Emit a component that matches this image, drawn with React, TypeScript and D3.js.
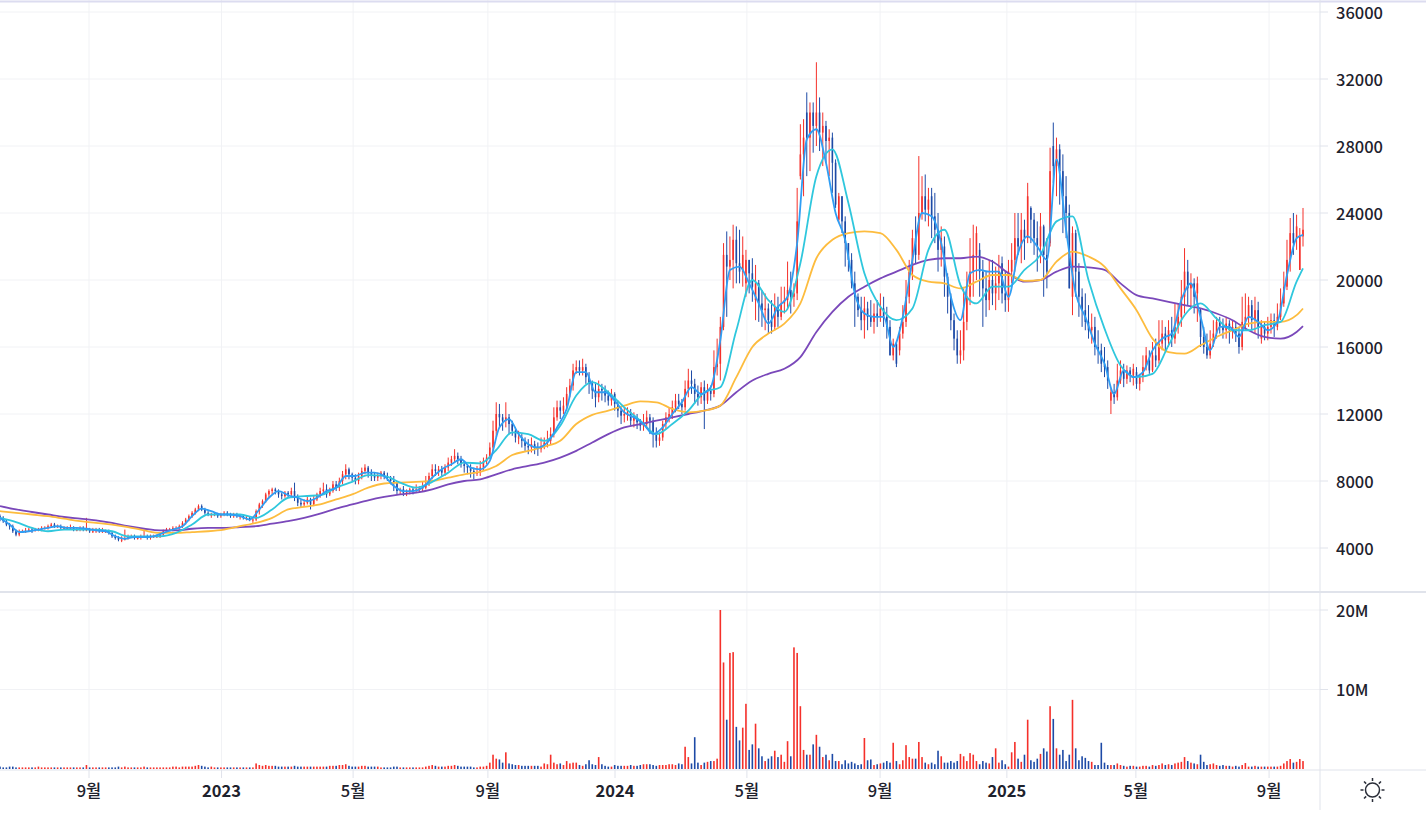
import * as d3 from 'd3';

// prices are in hundreds of won, one candle per two trading days
const opens = [
  59,58,56,54,53,50,48,49,50,50,
  51,50,51,51,52,52,53,54,53,53,
  52,52,52,52,51,51,52,51,51,50,
  50,51,50,50,50,49,47,46,45,45,
  46,47,47,46,46,47,47,46,47,47,
  47,48,50,51,51,52,52,53,55,57,
  59,61,63,65,63,61,60,60,60,59,
  60,61,60,59,60,59,59,58,58,57,
  57,62,66,68,72,74,75,74,72,71,
  73,72,74,70,67,66,67,69,66,69,
  72,74,75,72,74,78,76,80,84,87,
  84,82,80,83,86,88,85,83,82,83,
  85,83,82,80,79,74,75,73,74,75,
  74,75,76,76,78,83,87,86,87,85,
  88,91,93,95,93,90,89,88,86,85,
  85,88,92,94,100,110,120,118,116,118,
  114,110,106,106,104,101,100,102,100,99,
  101,103,104,108,118,124,122,125,132,137,
  146,148,146,148,142,138,134,130,135,134,
  131,128,132,126,122,119,120,121,116,118,
  115,113,114,118,116,108,104,106,114,118,
  120,124,128,126,124,135,140,138,132,130,
  136,128,134,132,148,150,172,215,208,212,
  224,210,205,198,212,204,188,198,186,182,
  183,176,172,184,178,186,188,194,190,192,
  262,275,300,285,300,292,300,288,292,283,
  285,270,236,250,235,222,212,198,190,182,
  176,183,178,175,180,178,183,178,172,155,
  162,158,168,175,190,205,225,215,240,250,
  242,250,238,230,218,220,202,190,176,165,
  155,158,175,190,205,215,218,205,195,188,
  200,192,198,210,192,188,205,212,225,220,
  230,225,243,236,225,220,232,215,222,280,
  268,278,265,250,240,190,228,205,190,182,
  175,170,172,160,158,150,148,128,133,130,
  140,146,141,146,143,145,138,142,148,152,
  146,155,152,162,168,164,170,165,172,178,
  190,205,195,198,192,182,166,160,155,162,
  168,175,172,170,174,170,172,168,160,175,
  178,185,176,182,165,172,168,172,176,172,
  178,186,196,212,228,225,206,226,
];
const highs = [
  60,59,57,55,54,51,51,51,52,52,
  52,52,52,53,53,54,55,55,54,54,
  53,53,54,53,52,53,53,58,52,52,
  52,52,52,51,51,50,48,47,47,51,
  48,48,48,47,48,51,48,48,48,48,
  49,51,52,52,53,53,54,56,58,60,
  62,64,66,66,64,62,61,61,61,61,
  62,62,61,61,61,60,60,59,59,58,
  63,67,69,73,75,76,76,75,73,74,
  74,76,79,72,69,69,71,70,71,73,
  76,79,78,76,80,80,82,86,90,88,
  85,84,85,88,90,89,87,85,85,86,
  86,85,83,83,80,76,77,75,76,76,
  78,77,80,83,85,90,90,89,89,90,
  94,95,99,97,95,92,90,90,88,89,
  92,94,96,103,116,127,126,120,127,120,
  116,112,110,108,106,105,106,104,103,106,
  106,110,112,124,128,128,130,136,141,150,
  152,152,153,150,145,140,139,140,138,137,
  134,135,133,128,124,124,124,123,121,120,
  117,120,122,120,118,112,109,116,121,124,
  128,132,132,129,140,147,146,141,137,139,
  140,138,137,158,165,178,222,229,226,233,
  232,230,226,218,212,213,209,200,194,192,
  186,188,192,190,196,196,211,205,198,255,
  293,296,312,306,306,330,309,300,295,290,
  288,272,252,250,238,222,216,205,192,190,
  190,187,188,186,188,192,190,184,176,165,
  163,172,185,200,212,230,238,274,262,263,
  255,255,252,240,232,226,204,192,180,170,
  170,195,205,225,233,232,222,212,205,212,
  212,208,215,214,205,212,222,240,240,240,
  236,258,244,240,235,240,233,225,279,294,
  285,281,275,262,245,232,230,210,195,192,
  185,180,178,170,162,160,152,135,138,150,
  152,150,149,148,150,148,144,155,160,158,
  163,165,176,176,172,176,178,186,186,200,
  219,212,204,201,202,183,172,168,170,176,
  178,178,177,178,176,176,175,172,190,192,
  190,188,190,187,176,175,178,180,180,186,
  195,205,224,237,240,239,231,243,
];
const lows = [
  56,55,53,51,49,47,47,49,49,50,
  49,50,50,50,51,51,52,52,52,51,
  51,51,51,50,50,50,50,50,49,49,
  49,49,49,49,48,46,45,44,43.5,44.5,
  45,46,45,45,45,46,45,45,46,46,
  46,47,49,50,50,51,51,52,54,56,
  58,60,62,62,60,59,58,59,58,58,
  59,59,58,58,58,57,57,56.5,56,55,
  56,60,64,67,70,72,72,70,69,70,
  70,71,68,65,64,64.5,66,63,65,68,
  70,72,70,71,73,74,74,78,81,81,
  80,78,78,81,84,82,80,80,80,81,
  81,80,78,74,72,72,71,71,72,72,
  73,73,74,75,77,81,83,83,83,83,
  86,89,91,90,88,85,84,82,81,83,
  83,86,90,93,98,106,112,110,112,108,
  107,103,102,100,98,96,97,96,95,97,
  99,100,102,106,116,117,120,122,130,134,
  144,143,143,138,132,129,124,127,128,127,
  125,125,122,118,114,115,116,113,112,111,
  110,110,111,108,100,100,101,104,111,115,
  117,121,123,120,122,130,132,126,125,126,
  111,126,128,130,143,140,170,178,200,195,
  198,198,196,190,192,187,176,175,172,170,
  168,168,170,172,176,180,182,180,184,188,
  260,250,262,265,276,280,277,268,270,262,
  252,243,234,228,208,205,195,172,178,170,
  165,170,172,168,172,175,172,165,155,152,
  148,155,165,172,186,200,210,212,236,235,
  232,225,222,205,208,190,180,170,158,150,
  150,152,170,185,190,200,190,172,178,182,
  185,182,188,186,181,181,198,205,215,210,
  212,222,222,215,205,210,190,195,220,258,
  250,245,228,225,195,179,190,178,172,170,
  165,162,155,150,145,142,135,120,126,128,
  138,136,138,139,137,135,134,139,146,144,
  145,148,150,158,158,160,160,162,168,172,
  180,185,183,180,175,160,156,153,153,160,
  165,168,165,165,162,165,163,156,158,170,
  172,170,168,165,162,164,164,168,166,170,
  176,184,194,205,215,218,206,220,
];
const closes = [
  58,56,54,53,50,48,49,50,50,51,
  50,51,51,52,52,53,54,53,53,52,
  52,52,52,51,51,52,51,51,50,50,
  51,50,50,50,49,47,46,45,45,46,
  47,47,46,46,47,47,46,47,47,47,
  48,50,51,51,52,52,53,55,57,59,
  61,63,65,63,61,60,60,60,59,60,
  61,60,59,60,59,59,58,58,57,57,
  62,66,68,72,74,75,74,72,71,73,
  72,74,70,67,66,67,69,66,69,72,
  74,75,72,74,78,76,80,84,87,84,
  82,80,83,86,88,85,83,82,83,85,
  83,82,80,79,74,75,73,74,75,74,
  75,76,76,78,83,87,86,87,85,88,
  91,93,95,93,90,89,88,86,85,85,
  88,92,94,100,110,120,118,116,118,114,
  110,106,106,104,101,100,102,100,99,101,
  103,104,108,118,124,122,125,132,137,146,
  148,146,148,142,138,134,130,135,134,131,
  128,132,126,122,119,120,121,116,118,115,
  113,114,118,116,108,104,106,114,118,120,
  124,128,126,124,135,140,138,132,130,136,
  128,134,132,148,150,172,215,208,212,224,
  210,205,215,212,204,196,198,186,182,183,
  176,172,184,178,186,188,194,190,192,235,
  275,285,285,300,292,300,288,292,283,285,
  270,245,250,235,222,212,198,190,182,176,
  183,178,175,180,178,183,178,172,155,162,
  150,168,175,190,205,225,215,240,250,242,
  248,238,230,218,225,202,190,176,165,155,
  158,175,190,205,215,228,205,195,188,200,
  192,198,205,192,188,205,212,225,220,230,
  225,250,236,225,220,232,215,205,265,268,
  278,265,250,240,195,228,205,190,182,175,
  170,172,160,158,150,148,140,133,130,140,
  146,141,146,143,147,138,142,148,155,146,
  155,152,162,168,164,170,165,172,178,190,
  205,195,198,190,198,166,160,155,162,168,
  175,172,170,174,170,172,168,160,175,178,
  185,176,182,172,172,168,172,176,172,178,
  186,196,212,228,222,232,226,230,
];
// traded volume in millions of shares
const volumes = [
  .3,.2,.2,.3,.3,.2,.2,.2,.2,.2,
  .2,.2,.3,.2,.2,.2,.2,.2,.2,.2,
  .2,.2,.2,.2,.2,.2,.2,.5,.2,.2,
  .2,.2,.2,.2,.2,.2,.2,.3,.2,.3,
  .2,.2,.2,.2,.2,.3,.2,.2,.2,.2,
  .2,.2,.2,.2,.3,.3,.2,.3,.3,.3,
  .3,.4,.5,.4,.3,.2,.3,.2,.2,.2,
  .2,.2,.2,.2,.2,.2,.2,.2,.2,.2,
  .7,.5,.4,.5,.4,.4,.4,.3,.3,.3,
  .3,.3,.4,.3,.3,.3,.3,.3,.3,.3,
  .3,.3,.3,.4,.4,.4,.5,.5,.6,.4,
  .3,.3,.3,.4,.4,.3,.3,.3,.3,.2,
  .2,.2,.2,.3,.3,.2,.2,.2,.2,.2,
  .2,.2,.2,.3,.4,.5,.4,.3,.3,.3,
  .4,.4,.5,.4,.3,.3,.3,.3,.2,.2,
  .3,.3,.4,.8,1.8,1.3,1.2,.8,2.1,.7,
  .6,.5,.5,.4,.4,.4,.4,.4,.4,.3,
  .7,.6,1.8,.8,.6,.7,.5,1.0,.7,.8,
  .8,.5,.4,.6,1.1,.6,.5,1.5,.6,.4,
  .3,.3,.5,.4,.4,.4,.4,.5,.4,.4,
  .5,.6,.6,.6,.5,.4,.5,.5,.5,.6,
  .6,.5,.7,.6,2.8,1.5,.7,4.0,.8,.5,
  .8,.9,1.0,1.0,1.3,20,13.4,6.2,14.6,14.7,
  5.3,3.6,5.2,8.2,2.4,3.1,5.7,2.6,1.6,1.0,
  1.3,1.6,2.3,1.5,1.8,.9,3.5,1.6,15.3,14.6,
  7.9,2.4,1.8,1.8,3.1,4.3,2.8,1.5,1.8,1.1,
  1.9,1.0,1.0,.6,1.1,.7,.9,.7,.5,.6,
  3.9,1.1,1.2,.5,.6,.7,.8,1.0,.8,3.3,
  1.0,.6,1.1,3.0,1.5,1.3,1.3,3.4,1.5,.8,
  .6,.8,.6,2.3,1.6,.8,.8,1.0,.8,1.0,
  1.9,1.6,1.0,2.0,1.8,1.0,.6,1.0,.8,.7,
  1.5,2.6,.8,1.1,.6,.3,2.1,3.4,1.3,.9,
  1.8,6.2,1.1,.9,1.3,1.9,2.6,2.2,7.9,6.3,
  2.6,1.8,2.4,1.0,1.8,8.7,2.6,1.1,1.6,1.4,
  1.0,.9,.5,.5,3.3,.8,.5,.5,.5,.7,
  .5,.4,.3,.4,.4,.3,.3,.4,.4,.3,
  .5,.4,.5,.7,.5,.6,.5,.7,.8,.9,
  1.5,1.0,.8,.7,.6,1.8,.9,.5,.6,.7,
  .5,.4,.5,.4,.4,.3,.4,.3,.5,.75,
  .3,.3,.4,.3,.3,.3,.3,.3,.3,.3,
  .4,.7,1.0,1.25,.8,.9,1.25,1.0,
];

// moving averages, read every few candles
const ma5 = [
  58,54,49.5,50,51,52,53,52,52,51.5,50.5,50,47,45.5,46.5,46.5,47,49,51,53,
  59,63.5,62,60,60,59,57,63,70,74,71.5,70,68,70,74,76,83,83,85,85,
  83,77,74,74,76,82,87,90,93,88,87,92,112,117,108,102,100,103,112,123,
  145,145,133,133,128,121,118,114,108,112,120,127,136,132,136,164,206,208,198,186,
  174,184,190,222,284,290,270,240,224,192,180,178,178,160,178,212,240,238,222,190,
  176,204,206,205,205,190,216,226,220,212,272,230,192,178,162,150,132,146,142,145,
  158,165,168,188,198,178,158,172,172,166,178,175,170,175,203,225,227,
];
const ma20 = [
  58,55.5,52,50,51,51,51,50,47,47,47,49,54,60,60,60,58,63,70,71,
  71.5,76,79.5,83.5,83,79,76,79.5,85,91,90.5,98.5,109,108,104,113,131,139,133,124,
  116,108,114,122,133,136,170,200,188,181,210,262,278,246,204,184,176,183,218,230,
  197,186,196,196,206,215,235,238,200,171,149,142,144,161,179,186,177,170,170,173,
  175,199,207,
];
const ma60 = [
  62,61,60,59,57.5,56,55,54,52.5,50.5,49,49,49.5,50,51,53,55,58,63,64.5,
  66,69,72,76,78.5,79,79.5,80,82,84,85.5,89,95.5,98,100.5,104,114,119.5,122,125,
  127.5,127,123,121,122,125,142,160,168,174,186,213,224,228,229,228,218,203,199,198,
  195,199,203,203,199.5,200,211,217,214,208,195,182,165,157,156,161,166,170,174,175,
  175,179,183,
];
const ma120 = [
  65,63,61.5,60,58.5,57.5,56.5,55,53,51.5,50.5,50.5,51.5,52,52,52.5,53,54.5,56,58,
  60.5,63.5,66,68.5,70.5,72,73,75,78,80,81,84,87,89,91,94,98,103,108,112,
  114,116,118,120,122,125,133,140,144,147,154,169,181,190,196,201,205,209,212,213,
  213,214,211,204,199,200,205,208,207.5,206,198,191,189,187,185,183,180,176,170,166,
  165,169,172.5,
];

const priceTicks = [36000, 32000, 28000, 24000, 20000, 16000, 12000, 8000, 4000];
const volumeTicks = [20, 10];
// month starts, as positions on the candle axis
const timeBars = [27.8, 69.2, 110.3, 152.4, 192.1, 233.3, 274.9, 314.5, 354.8, 396.4];
const timeLabels = ['9월', '2023', '5월', '9월', '2024', '5월', '9월', '2025', '5월', '9월'];

const width = 1426;
const height = 821;
const axisX = 1320;
const baseY = 770;
const up = '#f5302a';
const down = '#1d4aa6';
const gridColor = '#f1f2f5';
const lineColor = '#e0e3eb';
const textColor = '#1e222d';
const font = '"Noto Sans CJK KR", "Noto Sans", sans-serif';

const x = d3.scaleLinear().domain([0, highs.length - 1]).range([0, 1303]);
const yPrice = d3.scaleLinear().domain([4000, 36000]).range([548, 12]);
const yVolume = d3.scaleLinear().domain([0, 20]).range([769, 610]);

function maPath(values: number[], step: number) {
  const line = d3
    .line<number>()
    .x((_, i) => x(Math.min(i * step, highs.length - 1)))
    .y((v) => yPrice(v * 100))
    .curve(d3.curveMonotoneX);
  return line(values) ?? '';
}

const maLines = [
  { values: ma120, step: 5, color: '#7a48ba' },
  { values: ma60, step: 5, color: '#fdbc3e' },
  { values: ma20, step: 5, color: '#2fc7dd' },
  { values: ma5, step: 3, color: '#2f9ef4' },
];

export default function App() {
  return (
    <svg width={width} height={height} style={{ position: 'absolute', left: 0, top: 0, background: '#fff' }}>
      {/* grid */}
      {priceTicks.map((t) => (
        <g key={t}>
          <line x1={0} x2={axisX} y1={yPrice(t)} y2={yPrice(t)} stroke={gridColor} />
          <line x1={axisX} x2={axisX + 8} y1={yPrice(t)} y2={yPrice(t)} stroke={lineColor} />
        </g>
      ))}
      {volumeTicks.map((t) => (
        <g key={t}>
          <line x1={0} x2={axisX} y1={yVolume(t)} y2={yVolume(t)} stroke={gridColor} />
          <line x1={axisX} x2={axisX + 8} y1={yVolume(t)} y2={yVolume(t)} stroke={lineColor} />
        </g>
      ))}
      {timeBars.map((b) => (
        <g key={b}>
          <line x1={x(b)} x2={x(b)} y1={0} y2={baseY} stroke={gridColor} />
          <line x1={x(b)} x2={x(b)} y1={baseY} y2={baseY + 8} stroke={lineColor} />
        </g>
      ))}

      {/* frame */}
      <line x1={0} x2={width} y1={1.5} y2={1.5} stroke="#dcdcf0" strokeWidth={2} />
      <line x1={0} x2={width} y1={592} y2={592} stroke={lineColor} strokeWidth={2} />
      <line x1={0} x2={width} y1={baseY} y2={baseY} stroke={lineColor} />
      <line x1={axisX} x2={axisX} y1={0} y2={810} stroke={lineColor} />

      {/* candles */}
      {highs.map((h, i) => {
        const color = closes[i] >= opens[i] ? up : down;
        const top = yPrice(Math.max(opens[i], closes[i]) * 100);
        const bottom = yPrice(Math.min(opens[i], closes[i]) * 100);
        return (
          <g key={i}>
            <line x1={x(i)} x2={x(i)} y1={yPrice(h * 100)} y2={yPrice(lows[i] * 100)} stroke={color} strokeWidth={1} />
            <rect x={x(i) - 0.8} width={1.6} y={top} height={Math.max(bottom - top, 1)} fill={color} />
          </g>
        );
      })}

      {/* moving averages */}
      {maLines.map((m) => (
        <path key={m.color} d={maPath(m.values, m.step)} fill="none" stroke={m.color} strokeWidth={1.8} />
      ))}

      {/* volume */}
      {volumes.map((v, i) => (
        <rect
          key={i}
          x={x(i) - 0.8}
          width={1.6}
          y={yVolume(v)}
          height={yVolume(0) - yVolume(v)}
          fill={closes[i] >= opens[i] ? up : down}
        />
      ))}

      {/* labels */}
      <g fontFamily={font} fontSize={16.5} fontWeight={500} fill={textColor}>
        {priceTicks.map((t) => (
          <text key={t} x={1336} y={yPrice(t)} dy="0.4em">
            {t}
          </text>
        ))}
        {volumeTicks.map((t) => (
          <text key={t} x={1336} y={yVolume(t)} dy="0.4em">
            {t}M
          </text>
        ))}
        {timeBars.map((b, i) => (
          <text
            key={b}
            x={x(b)}
            y={791}
            dy="0.36em"
            textAnchor="middle"
            fontWeight={timeLabels[i].length > 2 ? 700 : 500}
          >
            {timeLabels[i]}
          </text>
        ))}
      </g>

      {/* theme toggle */}
      <g transform="translate(1372.5,790)" fill="none" stroke="#2a2e39" strokeWidth={1.5}>
        <circle r={7} />
        {d3.range(8).map((k) => {
          const a = (k * Math.PI) / 4;
          return (
            <line key={k} x1={Math.cos(a) * 9} y1={Math.sin(a) * 9} x2={Math.cos(a) * 12} y2={Math.sin(a) * 12} />
          );
        })}
      </g>
    </svg>
  );
}
